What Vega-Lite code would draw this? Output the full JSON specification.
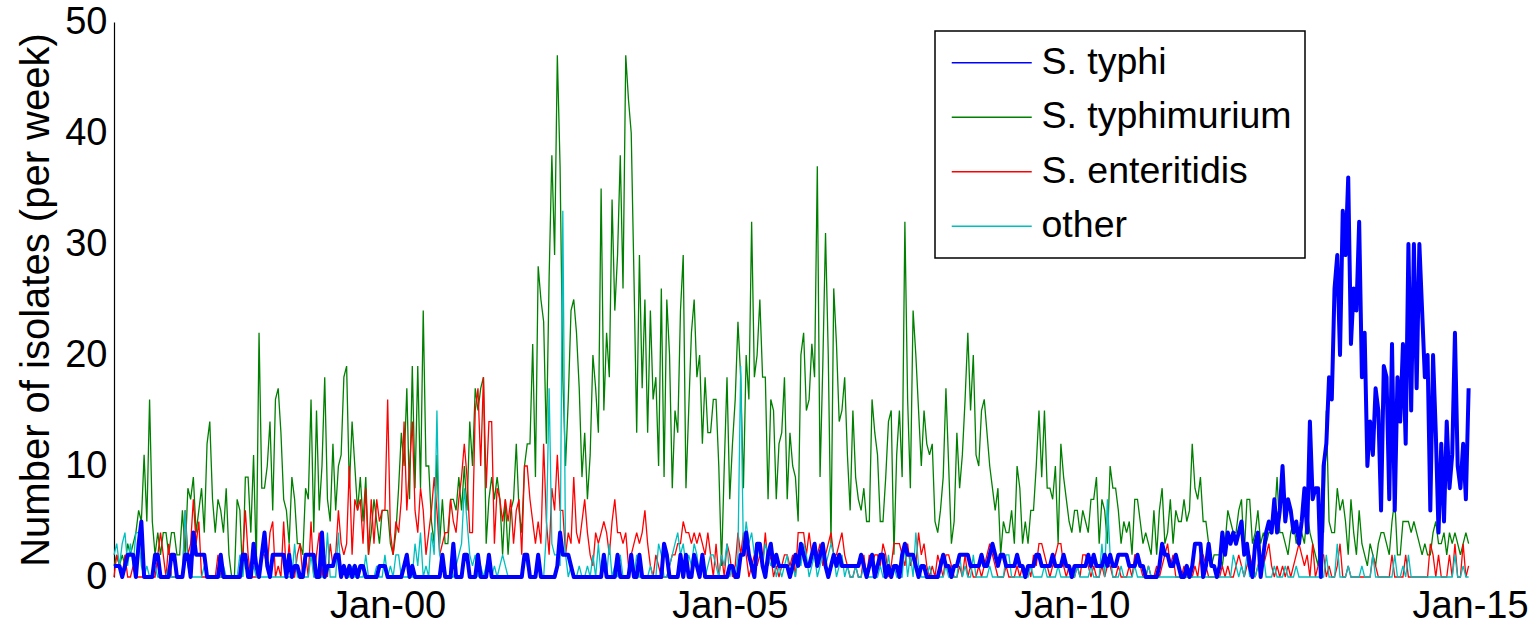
{
"$schema":"https://vega.github.io/schema/vega-lite/v6.json",
"width":1356,"height":555,
"autosize":{"type":"none"},
"padding":{"left":114,"top":22,"right":68,"bottom":47},
"background":"white",
"config":{"view":{"stroke":null},"font":"Liberation Sans",
"axis":{"labelFont":"Liberation Sans","labelFontSize":38,"labelColor":"black","titleFont":"Liberation Sans","titleFontSize":40,"titleFontWeight":"normal","titleColor":"black","grid":false,"domainColor":"black","tickColor":"black"},
"legend":{"strokeColor":"black","strokeWidth":1.5,"fillColor":"white","padding":13,"labelFont":"Liberation Sans","labelFontSize":37.5,"labelColor":"black","rowPadding":15.5,"labelLimit":600}},
"datasets":{"tk":[{"v":10},{"v":20},{"v":30},{"v":40},{"v":50}],"d":[
{"t":1996,"a":1,"b":1,"c":0,"d":2},{"t":1996.04,"a":1,"b":2,"c":2,"d":3},{"t":1996.08,"a":1,"b":1,"c":1,"d":1},{"t":1996.12,"a":0,"b":2,"c":0,"d":3},{"t":1996.16,"a":1,"b":1,"c":2,"d":4},{"t":1996.2,"a":2,"b":3,"c":0,"d":1},{"t":1996.24,"a":2,"b":2,"c":0,"d":3},{"t":1996.28,"a":2,"b":3,"c":1,"d":1},{"t":1996.32,"a":0,"b":4,"c":0,"d":4},{"t":1996.36,"a":3,"b":6,"c":0,"d":4},{"t":1996.4,"a":5,"b":5,"c":0,"d":1},{"t":1996.44,"a":0,"b":11,"c":0,"d":0},{"t":1996.48,"a":0,"b":5,"c":0,"d":1},{"t":1996.52,"a":0,"b":16,"c":0,"d":0},{"t":1996.56,"a":0,"b":5,"c":0,"d":0},{"t":1996.6,"a":2,"b":2,"c":0,"d":1},{"t":1996.64,"a":2,"b":4,"c":2,"d":0},{"t":1996.68,"a":0,"b":2,"c":4,"d":0},{"t":1996.72,"a":0,"b":4,"c":2,"d":0},{"t":1996.76,"a":0,"b":4,"c":0,"d":0},{"t":1996.8,"a":0,"b":2,"c":3,"d":1},{"t":1996.84,"a":2,"b":4,"c":0,"d":0},{"t":1996.88,"a":2,"b":4,"c":0,"d":0},{"t":1996.92,"a":0,"b":2,"c":0,"d":0},{"t":1996.96,"a":0,"b":2,"c":0,"d":0},
{"t":1997,"a":0,"b":6,"c":0,"d":0},{"t":1997.04,"a":2,"b":2,"c":6,"d":6},{"t":1997.08,"a":2,"b":8,"c":2,"d":1},{"t":1997.12,"a":0,"b":7,"c":3,"d":0},{"t":1997.16,"a":4,"b":9,"c":7,"d":0},{"t":1997.2,"a":2,"b":4,"c":3,"d":0},{"t":1997.24,"a":2,"b":6,"c":5,"d":0},{"t":1997.28,"a":2,"b":8,"c":0,"d":0},{"t":1997.32,"a":2,"b":4,"c":0,"d":1},{"t":1997.36,"a":0,"b":12,"c":0,"d":0},{"t":1997.4,"a":0,"b":14,"c":0,"d":0},{"t":1997.44,"a":0,"b":7,"c":0,"d":0},{"t":1997.48,"a":0,"b":4,"c":0,"d":0},{"t":1997.52,"a":0,"b":7,"c":2,"d":0},{"t":1997.56,"a":2,"b":6,"c":0,"d":0},{"t":1997.6,"a":0,"b":4,"c":0,"d":1},{"t":1997.64,"a":0,"b":8,"c":0,"d":0},{"t":1997.68,"a":0,"b":2,"c":0,"d":0},{"t":1997.72,"a":0,"b":0,"c":0,"d":0},{"t":1997.76,"a":0,"b":0,"c":0,"d":0},{"t":1997.8,"a":0,"b":7,"c":0,"d":0},{"t":1997.84,"a":0,"b":6,"c":0,"d":2},{"t":1997.88,"a":2,"b":0,"c":2,"d":0},{"t":1997.92,"a":2,"b":9,"c":6,"d":2},{"t":1997.96,"a":0,"b":9,"c":2,"d":0},
{"t":1998,"a":0,"b":4,"c":0,"d":0},{"t":1998.04,"a":3,"b":11,"c":0,"d":1},{"t":1998.08,"a":1,"b":1,"c":0,"d":0},{"t":1998.12,"a":0,"b":22,"c":1,"d":0},{"t":1998.16,"a":2,"b":8,"c":2,"d":0},{"t":1998.2,"a":4,"b":8,"c":2,"d":0},{"t":1998.24,"a":1,"b":10,"c":1,"d":0},{"t":1998.28,"a":0,"b":14,"c":4,"d":0},{"t":1998.32,"a":2,"b":6,"c":5,"d":0},{"t":1998.36,"a":2,"b":16,"c":0,"d":0},{"t":1998.4,"a":2,"b":17,"c":1,"d":0},{"t":1998.44,"a":2,"b":13,"c":0,"d":0},{"t":1998.48,"a":2,"b":7,"c":5,"d":0},{"t":1998.52,"a":0,"b":6,"c":0,"d":0},{"t":1998.56,"a":2,"b":3,"c":3,"d":0},{"t":1998.6,"a":0,"b":9,"c":0,"d":0},{"t":1998.64,"a":1,"b":7,"c":0,"d":3},{"t":1998.68,"a":1,"b":3,"c":2,"d":0},{"t":1998.72,"a":0,"b":3,"c":3,"d":0},{"t":1998.76,"a":0,"b":2,"c":0,"d":0},{"t":1998.8,"a":2,"b":8,"c":2,"d":0},{"t":1998.84,"a":2,"b":7,"c":0,"d":0},{"t":1998.88,"a":2,"b":16,"c":5,"d":2},{"t":1998.92,"a":2,"b":4,"c":0,"d":0},{"t":1998.96,"a":0,"b":15,"c":2,"d":0},
{"t":1999,"a":0,"b":6,"c":4,"d":0},{"t":1999.04,"a":4,"b":10,"c":0,"d":0},{"t":1999.08,"a":0,"b":18,"c":2,"d":0},{"t":1999.12,"a":1,"b":7,"c":0,"d":4},{"t":1999.16,"a":1,"b":5,"c":3,"d":0},{"t":1999.2,"a":1,"b":12,"c":1,"d":0},{"t":1999.24,"a":2,"b":6,"c":2,"d":0},{"t":1999.28,"a":2,"b":10,"c":6,"d":4},{"t":1999.32,"a":0,"b":11,"c":3,"d":0},{"t":1999.36,"a":1,"b":18,"c":2,"d":1},{"t":1999.4,"a":0,"b":19,"c":3,"d":0},{"t":1999.44,"a":1,"b":8,"c":10,"d":0},{"t":1999.48,"a":0,"b":14,"c":2,"d":1},{"t":1999.52,"a":1,"b":10,"c":7,"d":0},{"t":1999.56,"a":0,"b":6,"c":6,"d":0},{"t":1999.6,"a":1,"b":9,"c":7,"d":0},{"t":1999.64,"a":1,"b":5,"c":3,"d":0},{"t":1999.68,"a":0,"b":9,"c":8,"d":2},{"t":1999.72,"a":0,"b":2,"c":2,"d":0},{"t":1999.76,"a":0,"b":4,"c":7,"d":0},{"t":1999.8,"a":0,"b":7,"c":3,"d":0},{"t":1999.84,"a":0,"b":5,"c":7,"d":1},{"t":1999.88,"a":1,"b":3,"c":5,"d":0},{"t":1999.92,"a":1,"b":6,"c":6,"d":0},{"t":1999.96,"a":1,"b":6,"c":6,"d":2},
{"t":2000,"a":0,"b":6,"c":16,"d":0},{"t":2000.04,"a":0,"b":3,"c":4,"d":1},{"t":2000.08,"a":0,"b":2,"c":2,"d":0},{"t":2000.12,"a":0,"b":4,"c":5,"d":2},{"t":2000.16,"a":0,"b":8,"c":4,"d":2},{"t":2000.2,"a":0,"b":13,"c":7,"d":0},{"t":2000.24,"a":1,"b":10,"c":14,"d":0},{"t":2000.28,"a":2,"b":17,"c":6,"d":0},{"t":2000.32,"a":0,"b":7,"c":10,"d":0},{"t":2000.36,"a":1,"b":19,"c":14,"d":0},{"t":2000.4,"a":0,"b":8,"c":6,"d":3},{"t":2000.44,"a":0,"b":19,"c":4,"d":1},{"t":2000.48,"a":0,"b":8,"c":8,"d":4},{"t":2000.52,"a":0,"b":24,"c":6,"d":0},{"t":2000.56,"a":0,"b":10,"c":2,"d":1},{"t":2000.6,"a":0,"b":10,"c":4,"d":0},{"t":2000.64,"a":0,"b":5,"c":6,"d":4},{"t":2000.68,"a":0,"b":3,"c":9,"d":2},{"t":2000.72,"a":0,"b":11,"c":6,"d":15},{"t":2000.76,"a":0,"b":3,"c":2,"d":2},{"t":2000.8,"a":2,"b":7,"c":3,"d":1},{"t":2000.84,"a":0,"b":3,"c":4,"d":0},{"t":2000.88,"a":0,"b":3,"c":4,"d":0},{"t":2000.92,"a":0,"b":7,"c":7,"d":0},{"t":2000.96,"a":3,"b":7,"c":5,"d":0},
{"t":2001,"a":0,"b":6,"c":4,"d":1},{"t":2001.04,"a":0,"b":9,"c":7,"d":2},{"t":2001.08,"a":0,"b":6,"c":9,"d":3},{"t":2001.12,"a":2,"b":10,"c":12,"d":8},{"t":2001.16,"a":2,"b":6,"c":9,"d":5},{"t":2001.2,"a":0,"b":14,"c":4,"d":2},{"t":2001.24,"a":0,"b":10,"c":4,"d":1},{"t":2001.28,"a":0,"b":17,"c":15,"d":2},{"t":2001.32,"a":2,"b":15,"c":17,"d":0},{"t":2001.36,"a":0,"b":17,"c":10,"d":1},{"t":2001.4,"a":0,"b":18,"c":18,"d":0},{"t":2001.44,"a":0,"b":3,"c":8,"d":1},{"t":2001.48,"a":2,"b":7,"c":14,"d":2},{"t":2001.52,"a":0,"b":9,"c":14,"d":0},{"t":2001.56,"a":0,"b":7,"c":3,"d":1},{"t":2001.6,"a":0,"b":9,"c":8,"d":0},{"t":2001.64,"a":0,"b":7,"c":7,"d":1},{"t":2001.68,"a":0,"b":2,"c":5,"d":2},{"t":2001.72,"a":0,"b":7,"c":7,"d":1},{"t":2001.76,"a":0,"b":2,"c":5,"d":0},{"t":2001.8,"a":0,"b":6,"c":7,"d":0},{"t":2001.84,"a":0,"b":7,"c":3,"d":0},{"t":2001.88,"a":0,"b":12,"c":6,"d":0},{"t":2001.92,"a":0,"b":6,"c":7,"d":0},{"t":2001.96,"a":0,"b":4,"c":2,"d":0},
{"t":2002,"a":2,"b":10,"c":10,"d":2},{"t":2002.04,"a":2,"b":12,"c":10,"d":1},{"t":2002.08,"a":0,"b":12,"c":7,"d":0},{"t":2002.12,"a":0,"b":21,"c":5,"d":0},{"t":2002.16,"a":0,"b":9,"c":3,"d":0},{"t":2002.2,"a":2,"b":28,"c":5,"d":2},{"t":2002.24,"a":0,"b":25,"c":3,"d":0},{"t":2002.28,"a":0,"b":23,"c":12,"d":0},{"t":2002.32,"a":0,"b":12,"c":5,"d":4},{"t":2002.36,"a":0,"b":27,"c":2,"d":17},{"t":2002.4,"a":0,"b":38,"c":8,"d":3},{"t":2002.44,"a":0,"b":29,"c":6,"d":2},{"t":2002.48,"a":1,"b":47,"c":11,"d":2},{"t":2002.52,"a":4,"b":37,"c":6,"d":1},{"t":2002.56,"a":2,"b":18,"c":6,"d":33},{"t":2002.6,"a":2,"b":10,"c":2,"d":2},{"t":2002.64,"a":2,"b":16,"c":4,"d":0},{"t":2002.68,"a":1,"b":24,"c":3,"d":1},{"t":2002.72,"a":0,"b":25,"c":9,"d":0},{"t":2002.76,"a":0,"b":22,"c":4,"d":0},{"t":2002.8,"a":0,"b":17,"c":3,"d":1},{"t":2002.84,"a":0,"b":9,"c":5,"d":0},{"t":2002.88,"a":0,"b":13,"c":7,"d":0},{"t":2002.92,"a":0,"b":7,"c":4,"d":1},{"t":2002.96,"a":0,"b":11,"c":2,"d":0},
{"t":2003,"a":0,"b":20,"c":1,"d":2},{"t":2003.04,"a":0,"b":17,"c":4,"d":0},{"t":2003.08,"a":0,"b":13,"c":3,"d":3},{"t":2003.12,"a":0,"b":35,"c":4,"d":0},{"t":2003.16,"a":2,"b":15,"c":5,"d":1},{"t":2003.2,"a":0,"b":22,"c":4,"d":0},{"t":2003.24,"a":0,"b":18,"c":2,"d":3},{"t":2003.28,"a":0,"b":34,"c":5,"d":0},{"t":2003.32,"a":0,"b":24,"c":7,"d":1},{"t":2003.36,"a":2,"b":29,"c":4,"d":0},{"t":2003.4,"a":0,"b":38,"c":4,"d":2},{"t":2003.44,"a":0,"b":26,"c":3,"d":0},{"t":2003.48,"a":0,"b":47,"c":4,"d":0},{"t":2003.52,"a":0,"b":43,"c":1,"d":0},{"t":2003.56,"a":2,"b":40,"c":2,"d":1},{"t":2003.6,"a":0,"b":27,"c":3,"d":0},{"t":2003.64,"a":0,"b":13,"c":4,"d":2},{"t":2003.68,"a":2,"b":29,"c":3,"d":0},{"t":2003.72,"a":0,"b":17,"c":4,"d":0},{"t":2003.76,"a":0,"b":25,"c":6,"d":0},{"t":2003.8,"a":0,"b":13,"c":3,"d":0},{"t":2003.84,"a":0,"b":24,"c":1,"d":1},{"t":2003.88,"a":0,"b":16,"c":0,"d":0},{"t":2003.92,"a":0,"b":18,"c":2,"d":0},{"t":2003.96,"a":0,"b":10,"c":1,"d":3},
{"t":2004,"a":0,"b":26,"c":0,"d":2},{"t":2004.04,"a":3,"b":9,"c":0,"d":0},{"t":2004.08,"a":2,"b":25,"c":0,"d":0},{"t":2004.12,"a":0,"b":20,"c":1,"d":1},{"t":2004.16,"a":0,"b":8,"c":2,"d":2},{"t":2004.2,"a":0,"b":15,"c":2,"d":3},{"t":2004.24,"a":0,"b":13,"c":3,"d":4},{"t":2004.28,"a":2,"b":24,"c":3,"d":2},{"t":2004.32,"a":0,"b":29,"c":5,"d":3},{"t":2004.36,"a":2,"b":8,"c":4,"d":1},{"t":2004.4,"a":0,"b":15,"c":4,"d":2},{"t":2004.44,"a":0,"b":22,"c":3,"d":1},{"t":2004.48,"a":2,"b":25,"c":4,"d":3},{"t":2004.52,"a":1,"b":18,"c":3,"d":2},{"t":2004.56,"a":0,"b":20,"c":4,"d":0},{"t":2004.6,"a":2,"b":12,"c":3,"d":1},{"t":2004.64,"a":0,"b":18,"c":2,"d":0},{"t":2004.68,"a":0,"b":13,"c":4,"d":1},{"t":2004.72,"a":0,"b":13,"c":2,"d":2},{"t":2004.76,"a":0,"b":16,"c":0,"d":2},{"t":2004.8,"a":0,"b":16,"c":3,"d":1},{"t":2004.84,"a":0,"b":10,"c":0,"d":0},{"t":2004.88,"a":0,"b":1,"c":2,"d":2},{"t":2004.92,"a":0,"b":10,"c":0,"d":1},{"t":2004.96,"a":0,"b":18,"c":3,"d":3},
{"t":2005,"a":1,"b":7,"c":2,"d":0},{"t":2005.04,"a":1,"b":12,"c":0,"d":1},{"t":2005.08,"a":0,"b":16,"c":1,"d":0},{"t":2005.12,"a":0,"b":23,"c":4,"d":2},{"t":2005.16,"a":2,"b":18,"c":2,"d":19},{"t":2005.2,"a":2,"b":8,"c":4,"d":2},{"t":2005.24,"a":4,"b":20,"c":2,"d":5},{"t":2005.28,"a":2,"b":16,"c":0,"d":3},{"t":2005.32,"a":1,"b":32,"c":1,"d":4},{"t":2005.36,"a":0,"b":18,"c":2,"d":2},{"t":2005.4,"a":3,"b":20,"c":1,"d":3},{"t":2005.44,"a":3,"b":25,"c":2,"d":2},{"t":2005.48,"a":1,"b":18,"c":1,"d":1},{"t":2005.52,"a":0,"b":18,"c":4,"d":3},{"t":2005.56,"a":2,"b":7,"c":1,"d":2},{"t":2005.6,"a":3,"b":16,"c":2,"d":1},{"t":2005.64,"a":1,"b":15,"c":0,"d":2},{"t":2005.68,"a":2,"b":7,"c":1,"d":0},{"t":2005.72,"a":1,"b":12,"c":0,"d":1},{"t":2005.76,"a":1,"b":13,"c":1,"d":0},{"t":2005.8,"a":1,"b":18,"c":2,"d":1},{"t":2005.84,"a":1,"b":7,"c":2,"d":2},{"t":2005.88,"a":0,"b":13,"c":1,"d":0},{"t":2005.92,"a":1,"b":10,"c":2,"d":1},{"t":2005.96,"a":2,"b":9,"c":0,"d":0},
{"t":2006,"a":1,"b":5,"c":4,"d":2},{"t":2006.04,"a":3,"b":20,"c":4,"d":1},{"t":2006.08,"a":2,"b":22,"c":4,"d":3},{"t":2006.12,"a":1,"b":15,"c":2,"d":2},{"t":2006.16,"a":1,"b":16,"c":4,"d":0},{"t":2006.2,"a":2,"b":21,"c":2,"d":1},{"t":2006.24,"a":3,"b":18,"c":3,"d":2},{"t":2006.28,"a":1,"b":37,"c":2,"d":0},{"t":2006.32,"a":2,"b":9,"c":3,"d":1},{"t":2006.36,"a":3,"b":19,"c":1,"d":2},{"t":2006.4,"a":1,"b":31,"c":2,"d":1},{"t":2006.44,"a":0,"b":20,"c":3,"d":2},{"t":2006.48,"a":1,"b":3,"c":4,"d":3},{"t":2006.52,"a":2,"b":26,"c":2,"d":2},{"t":2006.56,"a":1,"b":21,"c":2,"d":0},{"t":2006.6,"a":2,"b":14,"c":3,"d":1},{"t":2006.64,"a":1,"b":15,"c":4,"d":2},{"t":2006.68,"a":1,"b":18,"c":2,"d":0},{"t":2006.72,"a":1,"b":11,"c":1,"d":1},{"t":2006.76,"a":1,"b":6,"c":0,"d":0},{"t":2006.8,"a":1,"b":15,"c":0,"d":0},{"t":2006.84,"a":1,"b":9,"c":1,"d":1},{"t":2006.88,"a":1,"b":7,"c":0,"d":0},{"t":2006.92,"a":2,"b":6,"c":0,"d":0},{"t":2006.96,"a":1,"b":8,"c":2,"d":1},
{"t":2007,"a":0,"b":5,"c":0,"d":0},{"t":2007.04,"a":1,"b":5,"c":2,"d":0},{"t":2007.08,"a":2,"b":16,"c":1,"d":0},{"t":2007.12,"a":0,"b":13,"c":2,"d":0},{"t":2007.16,"a":1,"b":11,"c":2,"d":0},{"t":2007.2,"a":2,"b":5,"c":1,"d":1},{"t":2007.24,"a":2,"b":5,"c":3,"d":0},{"t":2007.28,"a":0,"b":9,"c":2,"d":0},{"t":2007.32,"a":1,"b":14,"c":0,"d":2},{"t":2007.36,"a":0,"b":15,"c":1,"d":0},{"t":2007.4,"a":1,"b":2,"c":3,"d":1},{"t":2007.44,"a":1,"b":11,"c":3,"d":0},{"t":2007.48,"a":0,"b":15,"c":3,"d":0},{"t":2007.52,"a":2,"b":9,"c":2,"d":0},{"t":2007.56,"a":3,"b":32,"c":1,"d":3},{"t":2007.6,"a":2,"b":16,"c":3,"d":0},{"t":2007.64,"a":2,"b":8,"c":1,"d":2},{"t":2007.68,"a":2,"b":24,"c":2,"d":0},{"t":2007.72,"a":1,"b":20,"c":1,"d":4},{"t":2007.76,"a":0,"b":15,"c":4,"d":1},{"t":2007.8,"a":1,"b":10,"c":2,"d":0},{"t":2007.84,"a":1,"b":15,"c":3,"d":0},{"t":2007.88,"a":0,"b":12,"c":1,"d":0},{"t":2007.92,"a":0,"b":11,"c":0,"d":1},{"t":2007.96,"a":0,"b":12,"c":1,"d":0},
{"t":2008,"a":0,"b":5,"c":0,"d":0},{"t":2008.04,"a":0,"b":4,"c":2,"d":0},{"t":2008.08,"a":1,"b":6,"c":1,"d":0},{"t":2008.12,"a":2,"b":9,"c":0,"d":0},{"t":2008.16,"a":1,"b":17,"c":2,"d":1},{"t":2008.2,"a":1,"b":10,"c":2,"d":0},{"t":2008.24,"a":0,"b":3,"c":1,"d":0},{"t":2008.28,"a":1,"b":5,"c":0,"d":0},{"t":2008.32,"a":1,"b":13,"c":0,"d":0},{"t":2008.36,"a":2,"b":8,"c":1,"d":2},{"t":2008.4,"a":2,"b":11,"c":0,"d":0},{"t":2008.44,"a":2,"b":16,"c":2,"d":1},{"t":2008.48,"a":2,"b":22,"c":0,"d":0},{"t":2008.52,"a":1,"b":15,"c":1,"d":0},{"t":2008.56,"a":1,"b":20,"c":0,"d":2},{"t":2008.6,"a":1,"b":11,"c":0,"d":0},{"t":2008.64,"a":1,"b":10,"c":1,"d":0},{"t":2008.68,"a":2,"b":15,"c":0,"d":0},{"t":2008.72,"a":1,"b":16,"c":1,"d":0},{"t":2008.76,"a":1,"b":13,"c":2,"d":0},{"t":2008.8,"a":2,"b":10,"c":3,"d":1},{"t":2008.84,"a":3,"b":8,"c":2,"d":0},{"t":2008.88,"a":2,"b":6,"c":1,"d":0},{"t":2008.92,"a":1,"b":8,"c":0,"d":0},{"t":2008.96,"a":2,"b":2,"c":0,"d":0},
{"t":2009,"a":2,"b":5,"c":0,"d":0},{"t":2009.04,"a":1,"b":4,"c":1,"d":2},{"t":2009.08,"a":1,"b":4,"c":0,"d":2},{"t":2009.12,"a":1,"b":6,"c":0,"d":0},{"t":2009.16,"a":1,"b":3,"c":0,"d":0},{"t":2009.2,"a":2,"b":10,"c":1,"d":0},{"t":2009.24,"a":1,"b":8,"c":0,"d":0},{"t":2009.28,"a":1,"b":3,"c":1,"d":0},{"t":2009.32,"a":0,"b":5,"c":0,"d":0},{"t":2009.36,"a":1,"b":3,"c":1,"d":0},{"t":2009.4,"a":1,"b":6,"c":0,"d":1},{"t":2009.44,"a":1,"b":6,"c":2,"d":0},{"t":2009.48,"a":2,"b":10,"c":1,"d":0},{"t":2009.52,"a":2,"b":15,"c":3,"d":0},{"t":2009.56,"a":1,"b":9,"c":3,"d":0},{"t":2009.6,"a":1,"b":15,"c":2,"d":1},{"t":2009.64,"a":1,"b":8,"c":1,"d":0},{"t":2009.68,"a":1,"b":8,"c":0,"d":0},{"t":2009.72,"a":2,"b":7,"c":1,"d":0},{"t":2009.76,"a":1,"b":10,"c":2,"d":0},{"t":2009.8,"a":1,"b":3,"c":3,"d":1},{"t":2009.84,"a":1,"b":12,"c":3,"d":0},{"t":2009.88,"a":2,"b":9,"c":1,"d":0},{"t":2009.92,"a":1,"b":7,"c":0,"d":0},{"t":2009.96,"a":1,"b":5,"c":1,"d":0},
{"t":2010,"a":0,"b":4,"c":0,"d":0},{"t":2010.04,"a":1,"b":6,"c":0,"d":0},{"t":2010.08,"a":1,"b":6,"c":1,"d":1},{"t":2010.12,"a":1,"b":4,"c":0,"d":0},{"t":2010.16,"a":1,"b":6,"c":2,"d":0},{"t":2010.2,"a":1,"b":5,"c":2,"d":0},{"t":2010.24,"a":2,"b":4,"c":1,"d":0},{"t":2010.28,"a":1,"b":7,"c":0,"d":1},{"t":2010.32,"a":2,"b":7,"c":1,"d":0},{"t":2010.36,"a":1,"b":9,"c":0,"d":0},{"t":2010.4,"a":1,"b":3,"c":0,"d":0},{"t":2010.44,"a":1,"b":7,"c":1,"d":3},{"t":2010.48,"a":2,"b":6,"c":0,"d":0},{"t":2010.52,"a":1,"b":3,"c":1,"d":7},{"t":2010.56,"a":2,"b":10,"c":1,"d":2},{"t":2010.6,"a":1,"b":8,"c":0,"d":0},{"t":2010.64,"a":1,"b":8,"c":0,"d":0},{"t":2010.68,"a":2,"b":6,"c":1,"d":0},{"t":2010.72,"a":2,"b":3,"c":0,"d":1},{"t":2010.76,"a":2,"b":5,"c":0,"d":0},{"t":2010.8,"a":2,"b":4,"c":0,"d":0},{"t":2010.84,"a":1,"b":5,"c":1,"d":0},{"t":2010.88,"a":1,"b":2,"c":0,"d":0},{"t":2010.92,"a":1,"b":7,"c":2,"d":1},{"t":2010.96,"a":2,"b":7,"c":2,"d":0},
{"t":2011,"a":1,"b":5,"c":1,"d":0},{"t":2011.04,"a":1,"b":3,"c":0,"d":0},{"t":2011.08,"a":0,"b":4,"c":0,"d":0},{"t":2011.12,"a":0,"b":3,"c":1,"d":1},{"t":2011.16,"a":0,"b":2,"c":0,"d":0},{"t":2011.2,"a":0,"b":6,"c":0,"d":0},{"t":2011.24,"a":0,"b":2,"c":1,"d":0},{"t":2011.28,"a":1,"b":6,"c":0,"d":0},{"t":2011.32,"a":3,"b":8,"c":1,"d":0},{"t":2011.36,"a":2,"b":3,"c":2,"d":0},{"t":2011.4,"a":2,"b":4,"c":3,"d":0},{"t":2011.44,"a":1,"b":7,"c":1,"d":0},{"t":2011.48,"a":1,"b":3,"c":2,"d":0},{"t":2011.52,"a":2,"b":6,"c":0,"d":0},{"t":2011.56,"a":1,"b":5,"c":0,"d":0},{"t":2011.6,"a":0,"b":5,"c":0,"d":0},{"t":2011.64,"a":0,"b":7,"c":1,"d":0},{"t":2011.68,"a":1,"b":5,"c":0,"d":0},{"t":2011.72,"a":0,"b":6,"c":0,"d":0},{"t":2011.76,"a":1,"b":12,"c":0,"d":0},{"t":2011.8,"a":3,"b":8,"c":1,"d":0},{"t":2011.84,"a":3,"b":7,"c":0,"d":0},{"t":2011.88,"a":3,"b":9,"c":2,"d":0},{"t":2011.92,"a":0,"b":5,"c":2,"d":0},{"t":2011.96,"a":1,"b":5,"c":1,"d":0},
{"t":2012,"a":3,"b":3,"c":0,"d":0},{"t":2012.04,"a":1,"b":1,"c":0,"d":0},{"t":2012.08,"a":1,"b":2,"c":0,"d":0},{"t":2012.12,"a":0,"b":2,"c":0,"d":0},{"t":2012.16,"a":1,"b":2,"c":0,"d":0},{"t":2012.2,"a":4,"b":1,"c":1,"d":0},{"t":2012.24,"a":2,"b":3,"c":0,"d":0},{"t":2012.28,"a":4,"b":6,"c":1,"d":0},{"t":2012.32,"a":3,"b":5,"c":0,"d":0},{"t":2012.36,"a":4,"b":4,"c":0,"d":2},{"t":2012.4,"a":3,"b":4,"c":1,"d":1},{"t":2012.44,"a":4,"b":6,"c":2,"d":0},{"t":2012.48,"a":5,"b":7,"c":1,"d":1},{"t":2012.52,"a":2,"b":2,"c":0,"d":0},{"t":2012.56,"a":3,"b":7,"c":1,"d":2},{"t":2012.6,"a":1,"b":7,"c":2,"d":0},{"t":2012.64,"a":0,"b":3,"c":1,"d":1},{"t":2012.68,"a":3,"b":4,"c":0,"d":0},{"t":2012.72,"a":4,"b":6,"c":1,"d":1},{"t":2012.76,"a":0,"b":3,"c":2,"d":0},{"t":2012.8,"a":2,"b":4,"c":1,"d":2},{"t":2012.84,"a":4,"b":3,"c":2,"d":0},{"t":2012.88,"a":5,"b":4,"c":3,"d":0},{"t":2012.92,"a":4,"b":4,"c":1,"d":0},{"t":2012.96,"a":7,"b":5,"c":0,"d":1},
{"t":2013,"a":4,"b":9,"c":1,"d":0},{"t":2013.04,"a":6,"b":4,"c":0,"d":0},{"t":2013.08,"a":10,"b":4,"c":1,"d":0},{"t":2013.12,"a":5,"b":3,"c":0,"d":1},{"t":2013.16,"a":7,"b":2,"c":1,"d":0},{"t":2013.2,"a":6,"b":4,"c":0,"d":0},{"t":2013.24,"a":4,"b":5,"c":1,"d":0},{"t":2013.28,"a":5,"b":3,"c":2,"d":1},{"t":2013.32,"a":3,"b":4,"c":3,"d":0},{"t":2013.36,"a":5,"b":4,"c":2,"d":0},{"t":2013.4,"a":8,"b":3,"c":1,"d":0},{"t":2013.44,"a":4,"b":6,"c":2,"d":0},{"t":2013.48,"a":14,"b":4,"c":0,"d":0},{"t":2013.52,"a":7,"b":3,"c":3,"d":0},{"t":2013.56,"a":8,"b":2,"c":0,"d":0},{"t":2013.6,"a":8,"b":1,"c":1,"d":0},{"t":2013.64,"a":0,"b":5,"c":2,"d":0},{"t":2013.68,"a":10,"b":4,"c":2,"d":0},{"t":2013.72,"a":12,"b":15,"c":0,"d":2},{"t":2013.76,"a":18,"b":5,"c":1,"d":0},{"t":2013.8,"a":16,"b":4,"c":0,"d":0},{"t":2013.84,"a":26,"b":4,"c":0,"d":0},{"t":2013.88,"a":29,"b":8,"c":1,"d":3},{"t":2013.92,"a":20,"b":6,"c":3,"d":0},{"t":2013.96,"a":33,"b":7,"c":0,"d":0},
{"t":2014,"a":29,"b":5,"c":0,"d":0},{"t":2014.04,"a":36,"b":2,"c":1,"d":1},{"t":2014.08,"a":21,"b":7,"c":0,"d":0},{"t":2014.12,"a":26,"b":4,"c":0,"d":0},{"t":2014.16,"a":24,"b":2,"c":0,"d":0},{"t":2014.2,"a":32,"b":6,"c":0,"d":0},{"t":2014.24,"a":18,"b":3,"c":0,"d":1},{"t":2014.28,"a":22,"b":2,"c":0,"d":0},{"t":2014.32,"a":10,"b":1,"c":0,"d":0},{"t":2014.36,"a":14,"b":3,"c":0,"d":0},{"t":2014.4,"a":11,"b":2,"c":2,"d":2},{"t":2014.44,"a":17,"b":1,"c":1,"d":0},{"t":2014.48,"a":15,"b":3,"c":0,"d":0},{"t":2014.52,"a":6,"b":4,"c":0,"d":0},{"t":2014.56,"a":19,"b":4,"c":0,"d":0},{"t":2014.6,"a":18,"b":3,"c":0,"d":0},{"t":2014.64,"a":7,"b":2,"c":0,"d":0},{"t":2014.68,"a":21,"b":5,"c":2,"d":0},{"t":2014.72,"a":6,"b":7,"c":0,"d":2},{"t":2014.76,"a":18,"b":2,"c":0,"d":0},{"t":2014.8,"a":14,"b":2,"c":0,"d":0},{"t":2014.84,"a":21,"b":5,"c":0,"d":1},{"t":2014.88,"a":12,"b":5,"c":2,"d":0},{"t":2014.92,"a":30,"b":5,"c":0,"d":2},{"t":2014.96,"a":15,"b":4,"c":0,"d":0},
{"t":2015,"a":30,"b":5,"c":0,"d":0},{"t":2015.04,"a":17,"b":4,"c":0,"d":0},{"t":2015.08,"a":30,"b":3,"c":0,"d":0},{"t":2015.12,"a":24,"b":2,"c":0,"d":0},{"t":2015.16,"a":18,"b":3,"c":0,"d":0},{"t":2015.2,"a":20,"b":2,"c":0,"d":0},{"t":2015.24,"a":6,"b":2,"c":3,"d":0},{"t":2015.28,"a":20,"b":4,"c":2,"d":0},{"t":2015.32,"a":13,"b":5,"c":0,"d":0},{"t":2015.36,"a":4,"b":3,"c":2,"d":0},{"t":2015.4,"a":12,"b":3,"c":0,"d":0},{"t":2015.44,"a":5,"b":4,"c":0,"d":0},{"t":2015.48,"a":14,"b":2,"c":0,"d":0},{"t":2015.52,"a":8,"b":4,"c":2,"d":0},{"t":2015.56,"a":11,"b":3,"c":0,"d":0},{"t":2015.6,"a":22,"b":4,"c":3,"d":2},{"t":2015.64,"a":10,"b":3,"c":0,"d":0},{"t":2015.68,"a":8,"b":2,"c":0,"d":0},{"t":2015.72,"a":12,"b":3,"c":3,"d":1},{"t":2015.76,"a":7,"b":4,"c":0,"d":0},{"t":2015.8,"a":17,"b":3,"c":1,"d":0}
]},
"data":{"name":"d"},
"encoding":{"x":{"field":"t","type":"quantitative","scale":{"domain":[1996,2015.82],"nice":false,"zero":false},
"axis":{"title":null,"values":[2000,2005,2010,2015.82],"labelExpr":"datum.value < 2003 ? 'Jan-00' : datum.value < 2008 ? 'Jan-05' : datum.value < 2013 ? 'Jan-10' : 'Jan-15'","domain":false,"ticks":false,"labelPadding":10,"labelFlush":false,"labelOverlap":false}}},
"layer":[
{"mark":{"type":"line","strokeWidth":1.3},"encoding":{"y":{"field":"b","type":"quantitative","title":"Number of isolates (per week)","scale":{"domain":[0,50],"nice":false},"axis":{"values":[0,10,20,30,40,50],"ticks":false,"domain":true,"labelPadding":7,"titlePadding":8,"domainWidth":1.2,"domainColor":"black"}},
"color":{"datum":"S. typhimurium","type":"nominal","scale":{"domain":["S. typhi","S. typhimurium","S. enteritidis","other"],"range":["#0000FF","#008000","#FF0000","#00BFBF"]},
"legend":{"title":null,"orient":"none","legendX":821,"legendY":9,"symbolType":"M-4,0H4","symbolSize":400,"symbolStrokeWidth":1.5,"symbolOffset":25,"labelOffset":31,"symbolFillColor":"transparent","labelLimit":600}}}},
{"mark":{"type":"line","strokeWidth":1.3},"encoding":{"y":{"field":"c","type":"quantitative","title":"Number of isolates (per week)"},"color":{"datum":"S. enteritidis","type":"nominal"}}},
{"mark":{"type":"line","strokeWidth":1.3},"encoding":{"y":{"field":"d","type":"quantitative","title":"Number of isolates (per week)"},"color":{"datum":"other","type":"nominal"}}},
{"mark":{"type":"line","strokeWidth":4,"strokeJoin":"round"},"encoding":{"y":{"field":"a","type":"quantitative","title":"Number of isolates (per week)"},"color":{"datum":"S. typhi","type":"nominal"}}},
{"data":{"name":"tk"},"mark":{"type":"rule","color":"black","strokeWidth":1.2},"encoding":{"x":{"datum":1996},"x2":{"datum":1996.16},"y":{"field":"v","type":"quantitative","title":"Number of isolates (per week)"}}}
]
}
